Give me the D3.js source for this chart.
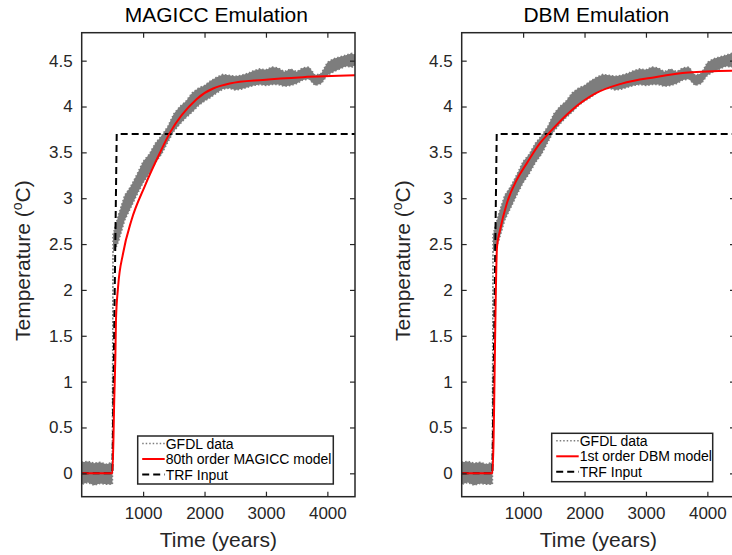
<!DOCTYPE html>
<html>
<head>
<meta charset="utf-8">
<script src="https://cdn.jsdelivr.net/npm/d3@7"></script>
<style>
  body { margin: 0; background: #fff; }
  svg { display: block; font-family: "Liberation Sans", Arial, Helvetica, sans-serif; }
</style>
</head>
<body>
<div id="container"></div>
<script>
// GFDL data, read as a noisy band (low / high edge) off the picture
const gfdlYears = [0, 100, 200, 300, 400, 500, 510, 550, 600, 700, 800, 900, 1000, 1100, 1200, 1300, 1400, 1500,
    1600, 1700, 1800, 1900, 2000, 2100, 2200, 2300, 2400, 2500, 2600, 2700, 2800, 2900, 3000, 3100, 3200, 3300,
    3400, 3500, 3600, 3700, 3800, 3900, 4000, 4100, 4200, 4300, 4400, 4450];
const gfdlLow = [-0.12, -0.1, -0.13, -0.11, -0.12, -0.12, 2.42, 2.45, 2.53, 2.76, 2.9, 3.04, 3.17, 3.27, 3.39, 3.48, 3.61, 3.73,
    3.81, 3.88, 3.94, 4.01, 4.06, 4.1, 4.15, 4.19, 4.2, 4.18, 4.19, 4.21, 4.23, 4.24, 4.23, 4.24, 4.24, 4.22,
    4.23, 4.25, 4.29, 4.3, 4.23, 4.25, 4.34, 4.38, 4.41, 4.44, 4.43, 4.45];
const gfdlHigh = [0.12, 0.13, 0.11, 0.12, 0.1, 0.12, 2.6, 2.7, 2.82, 3.03, 3.13, 3.26, 3.4, 3.48, 3.6, 3.68, 3.78, 3.92,
    4.0, 4.06, 4.15, 4.2, 4.23, 4.28, 4.32, 4.35, 4.34, 4.33, 4.34, 4.36, 4.39, 4.41, 4.4, 4.43, 4.42, 4.38,
    4.41, 4.38, 4.42, 4.43, 4.34, 4.36, 4.48, 4.52, 4.54, 4.56, 4.58, 4.56];

// TRF input (step)
const trfYears = [0, 500, 570, 4450];
const trfValues = [0, 0, 3.7, 3.7];

// 80th order MAGICC model
const magiccYears = [0, 500, 530, 548, 558, 592, 674, 810, 1026, 1270, 1433, 1870, 2410, 2950, 3600, 4450];
const magiccValues = [0, 0, 0.8, 1.27, 1.67, 2.03, 2.4, 2.76, 3.13, 3.49, 3.71, 4.08, 4.25, 4.29, 4.32, 4.34];

// 1st order DBM model
const dbmYears = [0, 500, 575, 624, 733, 896, 1059, 1275, 1420, 1791, 2171, 2606, 3148, 3691, 4450];
const dbmValues = [0, 0, 2.47, 2.65, 2.94, 3.2, 3.38, 3.6, 3.71, 3.96, 4.14, 4.25, 4.32, 4.37, 4.39];

const xTicks = [1000, 2000, 3000, 4000];
const yTicks = [0, 0.5, 1, 1.5, 2, 2.5, 3, 3.5, 4, 4.5];

const width = 732;
const height = 555;
const axisColor = '#262626';
const dataGray = '#7d7d7d';

const svg = d3.select('#container').append('svg')
    .attr('width', width)
    .attr('height', height);

const defs = svg.append('defs');

function drawPanel(opts) {
    const left = opts.left;
    const right = left + 273.3;
    const top = 32.7;
    const bottom = 496.7;

    const x = d3.scaleLinear().domain([0, 4450]).range([left, right]);
    const y = d3.scaleLinear().domain([-0.255, 4.805]).range([bottom, top]);

    defs.append('clipPath').attr('id', opts.id + '-clip')
        .append('rect')
        .attr('x', left).attr('y', top)
        .attr('width', right - left).attr('height', bottom - top);

    const g = svg.append('g');
    const plot = g.append('g').attr('clip-path', `url(#${opts.id}-clip)`);

    // GFDL band, rough dotted edge for the scattered points
    const area = d3.area()
        .x((d, i) => x(gfdlYears[i]))
        .y0((d, i) => y(gfdlLow[i]))
        .y1((d, i) => y(gfdlHigh[i]));
    plot.append('path')
        .attr('d', area(gfdlYears))
        .attr('fill', dataGray)
        .attr('stroke', dataGray)
        .attr('stroke-width', 1.6)
        .attr('stroke-dasharray', '1.5,2');

    // TRF input
    const trfLine = d3.line()
        .x((d, i) => x(trfYears[i]))
        .y((d, i) => y(trfValues[i]));
    plot.append('path')
        .attr('d', trfLine(trfYears))
        .attr('fill', 'none')
        .attr('stroke', '#000')
        .attr('stroke-width', 2)
        .attr('stroke-dasharray', '7,4');

    // model
    const modelLine = d3.line()
        .x((d, i) => x(opts.modelYears[i]))
        .y((d, i) => y(opts.modelValues[i]))
        .curve(d3.curveMonotoneX);
    plot.append('path')
        .attr('d', modelLine(opts.modelYears))
        .attr('fill', 'none')
        .attr('stroke', '#ff0000')
        .attr('stroke-width', 2);

    // axes
    const xAxis = g.append('g')
        .attr('transform', `translate(0,${bottom})`)
        .call(d3.axisBottom(x).tickValues(xTicks).tickSize(-5).tickSizeOuter(0).tickPadding(10).tickFormat(d3.format('d')));
    const xTop = g.append('g')
        .attr('transform', `translate(0,${top})`)
        .call(d3.axisTop(x).tickValues(xTicks).tickSize(-5).tickSizeOuter(0).tickFormat(''));
    const yAxis = g.append('g')
        .attr('transform', `translate(${left},0)`)
        .call(d3.axisLeft(y).tickValues(yTicks).tickSize(-5).tickSizeOuter(0).tickPadding(9).tickFormat(d3.format('')));
    const yRight = g.append('g')
        .attr('transform', `translate(${right},0)`)
        .call(d3.axisRight(y).tickValues(yTicks).tickSize(-5).tickSizeOuter(0).tickFormat(''));

    [xAxis, xTop, yAxis, yRight].forEach(a => {
        a.select('.domain').remove();
        a.selectAll('.tick line').attr('stroke', axisColor).attr('stroke-width', 1.2);
        a.selectAll('.tick text').attr('fill', axisColor).attr('font-size', 17)
            .attr('font-family', '"Liberation Sans", Arial, sans-serif');
    });

    g.append('rect')
        .attr('x', left).attr('y', top)
        .attr('width', right - left).attr('height', bottom - top)
        .attr('fill', 'none')
        .attr('stroke', axisColor)
        .attr('stroke-width', 1.5);

    // title
    g.append('text')
        .attr('x', (left + right) / 2 - 2)
        .attr('y', 22)
        .attr('text-anchor', 'middle')
        .attr('font-size', 21)
        .attr('fill', '#000')
        .text(opts.title);

    // x label
    g.append('text')
        .attr('x', (left + right) / 2)
        .attr('y', 546.5)
        .attr('text-anchor', 'middle')
        .attr('font-size', 21)
        .attr('fill', axisColor)
        .text('Time (years)');

    // y label
    const yl = g.append('text')
        .attr('transform', `translate(${left - 51.5},${(top + bottom) / 2 - 4}) rotate(-90)`)
        .attr('text-anchor', 'middle')
        .attr('font-size', 21)
        .attr('fill', axisColor);
    yl.append('tspan').text('Temperature (');
    yl.append('tspan').attr('font-size', 14).attr('dy', -8).text('o');
    yl.append('tspan').attr('dy', 8).text('C)');

    // legend
    const lg = g.append('g');
    const lb = opts.legend;
    lg.append('rect')
        .attr('x', lb.x).attr('y', lb.y)
        .attr('width', lb.w).attr('height', lb.h)
        .attr('fill', '#fff')
        .attr('stroke', axisColor)
        .attr('stroke-width', 1.5);

    const items = [
        { label: 'GFDL data', stroke: dataGray, dash: '1.5,2', w: 1.5 },
        { label: opts.modelLabel, stroke: '#ff0000', dash: null, w: 2 },
        { label: 'TRF Input', stroke: '#000', dash: '7,4', w: 2 }
    ];
    items.forEach((it, i) => {
        const cy = lb.y + 7.5 + i * 15.5;
        lg.append('line')
            .attr('x1', lb.x + 4.5).attr('x2', lb.x + 27)
            .attr('y1', cy).attr('y2', cy)
            .attr('stroke', it.stroke)
            .attr('stroke-width', it.w)
            .attr('stroke-dasharray', it.dash);
        lg.append('text')
            .attr('x', lb.x + 28)
            .attr('y', cy + 5)
            .attr('font-size', 14)
            .attr('fill', '#000')
            .text(it.label);
    });
}

drawPanel({
    id: 'magicc',
    left: 81.7,
    title: 'MAGICC Emulation',
    modelYears: magiccYears,
    modelValues: magiccValues,
    modelLabel: '80th order MAGICC model',
    legend: { x: 137.7, y: 436, w: 195.6, h: 48 }
});

drawPanel({
    id: 'dbm',
    left: 461.7,
    title: 'DBM Emulation',
    modelYears: dbmYears,
    modelValues: dbmValues,
    modelLabel: '1st order DBM model',
    legend: { x: 551.7, y: 433.3, w: 161, h: 48.4 }
});
</script>
</body>
</html>
